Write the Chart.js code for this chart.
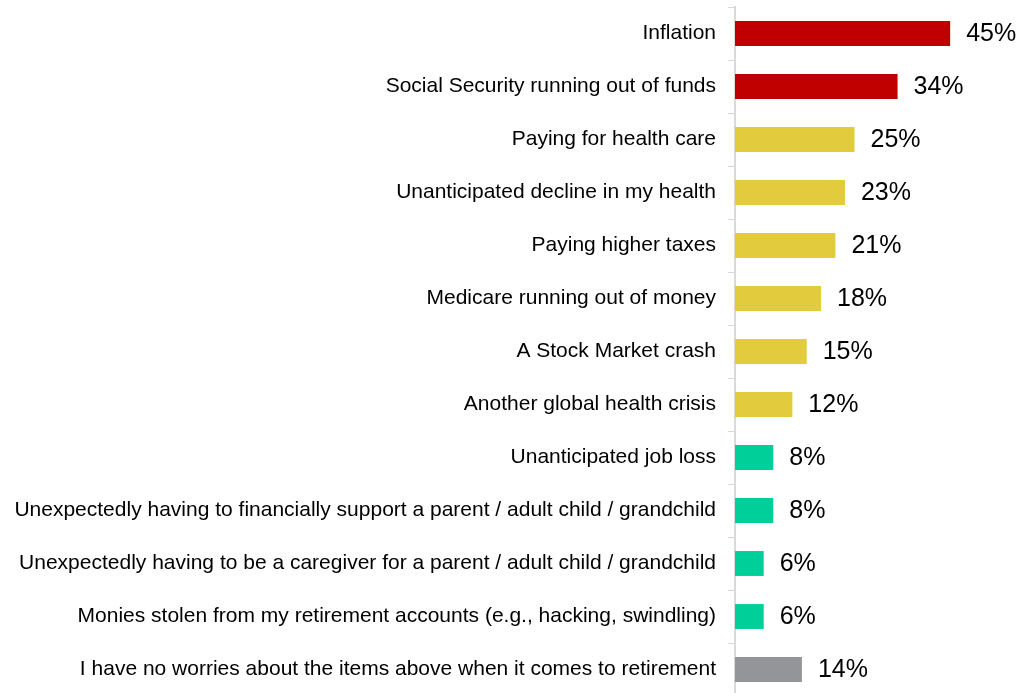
<!DOCTYPE html>
<html>
<head>
<meta charset="utf-8">
<script src="https://cdn.jsdelivr.net/npm/chart.js@4/dist/chart.umd.min.js"></script>
<style>
  html, body { margin: 0; padding: 0; background: #fff; overflow: hidden; }
  #wrap { width: 1019px; height: 696px; position: relative; }
</style>
</head>
<body>
<div id="wrap"><canvas id="c"></canvas></div>
<script>
const categories = [
  "Inflation",
  "Social Security running out of funds",
  "Paying for health care",
  "Unanticipated decline in my health",
  "Paying higher taxes",
  "Medicare running out of money",
  "A Stock Market crash",
  "Another global health crisis",
  "Unanticipated job loss",
  "Unexpectedly having to financially support a parent / adult child / grandchild",
  "Unexpectedly having to be a caregiver for a parent / adult child / grandchild",
  "Monies stolen from my retirement accounts (e.g., hacking, swindling)",
  "I have no worries about the items above when it comes to retirement"
];
const values = [45, 34, 25, 23, 21, 18, 15, 12, 8, 8, 6, 6, 14];
const groups = ["top","top","mid","mid","mid","mid","mid","mid","low","low","low","low","none"];
const groupColors = { top: "#C00000", mid: "#E2CB3C", low: "#00CF9A", none: "#939598" };

const valueLabels = {
  id: 'valueLabels',
  afterDatasetsDraw(chart) {
    const ctx = chart.ctx;
    const meta = chart.getDatasetMeta(0);
    ctx.save();
    ctx.font = '25px "Liberation Sans", Arial, sans-serif';
    ctx.fillStyle = '#000';
    ctx.textAlign = 'left';
    ctx.textBaseline = 'middle';
    meta.data.forEach((bar, i) => {
      ctx.fillText(values[i] + '%', bar.x + 16, bar.y + 1);
    });
    ctx.restore();
  }
};

new Chart(document.getElementById('c'), {
  type: 'bar',
  data: {
    labels: categories,
    datasets: [{
      data: values,
      backgroundColor: groups.map(g => groupColors[g]),
      borderWidth: 0,
      barPercentage: 0.47,
      categoryPercentage: 1.0
    }]
  },
  options: {
    indexAxis: 'y',
    responsive: true,
    maintainAspectRatio: false,
    animation: false,
    layout: { padding: { top: 7, bottom: 0, left: 0, right: 0 } },
    plugins: { legend: { display: false }, tooltip: { enabled: false } },
    scales: {
      x: {
        display: false,
        min: 0,
        max: 59.4
      },
      y: {
        afterFit(scale) {
          scale.width = 735;
          scale.paddingTop = 0;
          scale.paddingBottom = 0;
        },
        border: { display: true, color: '#D9D9D9', width: 2 },
        grid: {
          display: true,
          drawOnChartArea: false,
          drawTicks: true,
          tickLength: 7,
          color: '#D9D9D9',
          offset: true
        },
        ticks: {
          color: '#000',
          padding: 12,
          autoSkip: false,
          font: { family: '"Liberation Sans", Arial, sans-serif', size: 21 }
        }
      }
    }
  },
  plugins: [valueLabels]
});
</script>
</body>
</html>
